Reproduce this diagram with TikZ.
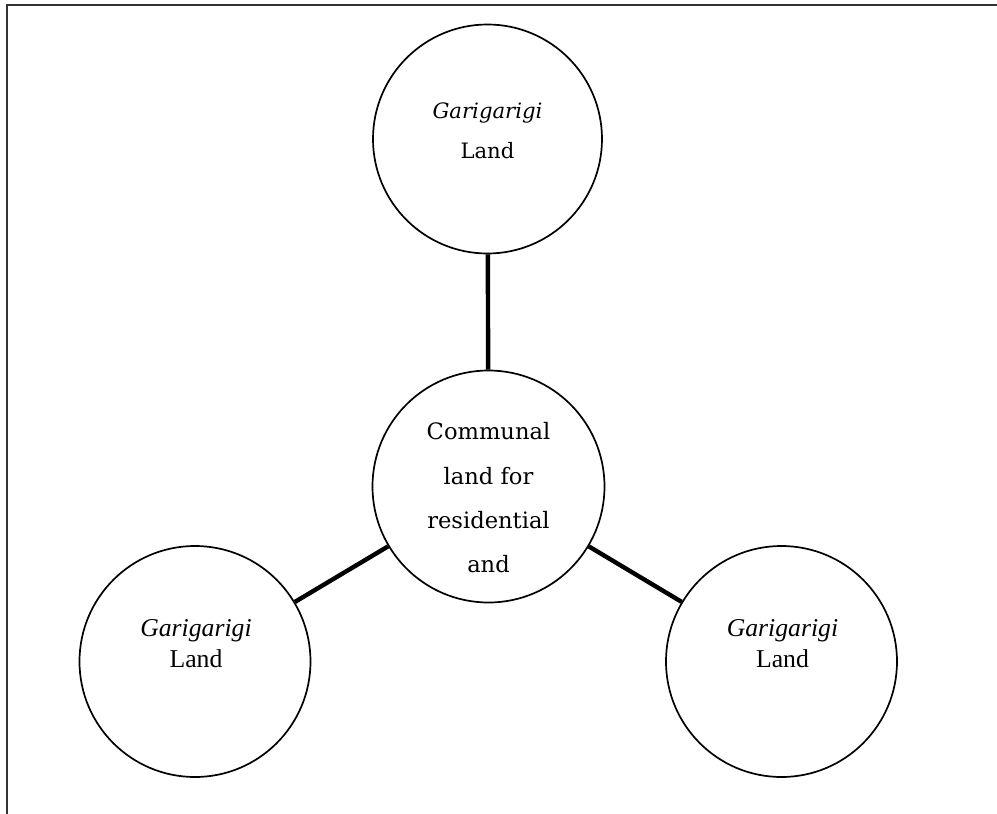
\documentclass[tikz,border=0pt]{standalone}
\usepackage{fontspec}
\setmainfont{Liberation Serif}
\newfontfamily\dvserif{DejaVu Serif}
\begin{document}
\begin{tikzpicture}[x=1pt,y=-1pt,
  landcircle/.style={circle,draw=black,line width=1.7pt,minimum size=229pt,inner sep=0pt},
  link/.style={line width=4.4pt,black},
  frameline/.style={line width=2.2pt,draw={rgb,255:red,50;green,50;blue,50}},
  midtext/.style={align=center,inner sep=0pt,font={\dvserif\fontsize{22.6}{44.3}\selectfont}},
  toptext/.style={align=center,inner sep=0pt,font={\dvserif\fontsize{21.2}{39.5}\selectfont}},
  lowtext/.style={align=center,inner sep=0pt,font={\fontsize{25.7}{31}\selectfont}}
]
\useasboundingbox (0,0) rectangle (997,814);
\coordinate (fa) at (7,814);
\coordinate (fb) at (7,5);
\coordinate (fc) at (997,5);
\draw[frameline] (fa) -- (fb) -- (fc);

\node[landcircle] (top) at (487.5,139) {};
\node[landcircle,minimum size=232pt] (mid) at (488.5,486.5) {};
\node[landcircle,minimum size=231pt] (left) at (195,661.5) {};
\node[landcircle,minimum size=231pt] (right) at (781.5,661.5) {};

\draw[link] (top) -- (mid);
\draw[link] (left) -- (mid);
\draw[link] (right) -- (mid);

\node[toptext] (toptx) at (487.5,131) {\itshape Garigarigi\\Land};
\node[midtext] (midtx) at (488.5,498) {Communal\\land for\\residential\\and};
\node[lowtext] (lefttx) at (196,644) {\itshape Garigarigi\\Land};
\node[lowtext] (righttx) at (782.5,644) {\itshape Garigarigi\\Land};
\end{tikzpicture}
\end{document}
